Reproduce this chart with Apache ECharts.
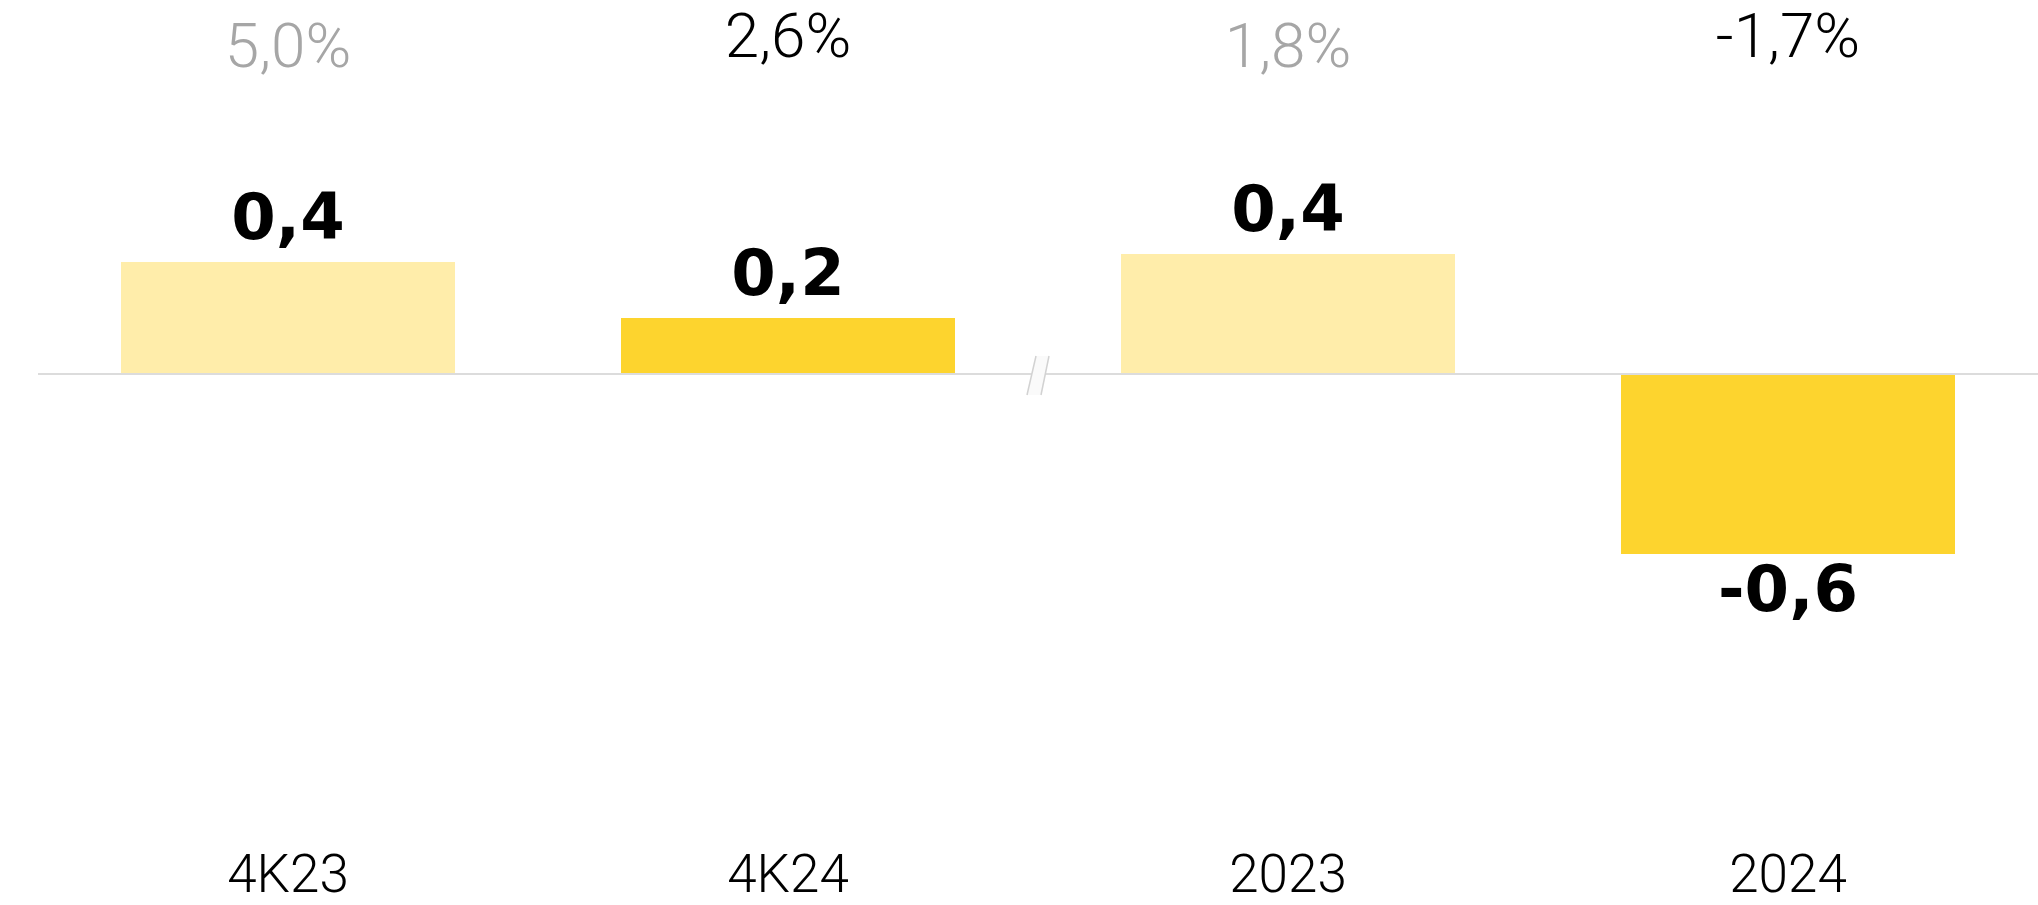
<!DOCTYPE html>
<html>
<head>
<meta charset="utf-8">
<title>Прирост</title>
<script src="https://cdn.jsdelivr.net/npm/echarts@6/dist/echarts.min.js"></script>
<style>
  html, body { margin: 0; padding: 0; background: #ffffff; }
  #chart { width: 2038px; height: 905px; }
</style>
</head>
<body>
<div id="chart"></div>
<script>
// Quarterly block (left of the axis break)
const quarterCats = ['4K23', '4K24'];
const quarterValues = [0.4, 0.2];
const quarterGrowth = ['5,0%', '2,6%'];

// Annual block (right of the axis break)
const yearCats = ['2023', '2024'];
const yearValues = [0.4, -0.6];
const yearGrowth = ['1,8%', '-1,7%'];

// Layout
const GRID_TOP = 134;
const GRID_BOTTOM_Y = 674;
const ZERO_Y = 374;
const LEFT = 38;
const HALF_W = 1000;
const PX_PER_UNIT = [280, 300];   // each block has its own scale

const COLOR_PREV = '#FFEDAA';
const COLOR_CURR = '#FDD42E';

const chart = echarts.init(document.getElementById('chart'));

function yRange(i) {
  const s = PX_PER_UNIT[i];
  return { max: (ZERO_Y - GRID_TOP) / s, min: -(GRID_BOTTOM_Y - ZERO_Y) / s };
}

function fmt(v) {
  return v.toFixed(1).replace('.', ',');
}

function barData(values) {
  return values.map((v, i) => ({
    value: v,
    itemStyle: { color: i === 0 ? COLOR_PREV : COLOR_CURR },
    label: { position: v < 0 ? 'bottom' : 'top' }
  }));
}

const grids = [0, 1].map(i => ({
  left: LEFT + i * HALF_W,
  width: HALF_W,
  top: GRID_TOP,
  height: GRID_BOTTOM_Y - GRID_TOP,
  containLabel: false
}));

const cats = [quarterCats, yearCats];
const growth = [quarterGrowth, yearGrowth];

const xAxes = [];
[0, 1].forEach(i => {
  // category labels under the chart
  xAxes.push({
    type: 'category',
    gridIndex: i,
    data: cats[i],
    position: 'bottom',
    axisLine: { show: false, onZero: false },
    axisTick: { show: false },
    axisLabel: {
      margin: 178,
      fontFamily: 'Roboto',
      fontWeight: 300,
      fontSize: 53,
      color: '#000000'
    }
  });
  // growth rates above the chart
  xAxes.push({
    type: 'category',
    gridIndex: i,
    data: growth[i],
    position: 'top',
    axisLine: { show: false, onZero: false },
    axisTick: { show: false },
    axisLabel: {
      margin: 52,
      formatter: (val, idx) => idx === 0 ? '{prev|' + val + '}' : '{curr|' + val + '}',
      rich: {
        prev: {
          fontFamily: 'Roboto', fontWeight: 300, fontSize: 62, color: '#a6a6a6'
        },
        curr: {
          fontFamily: 'Roboto', fontWeight: 300, fontSize: 62, color: '#000000',
          padding: [0, 0, 10, 0]
        }
      }
    }
  });
});

const yAxes = [0, 1].map(i => Object.assign({
  type: 'value',
  gridIndex: i,
  show: false,
  splitLine: { show: false }
}, yRange(i)));

const valueLabel = {
  show: true,
  distance: 8,
  fontFamily: 'DejaVu Sans',
  fontWeight: 'bold',
  fontSize: 64,
  color: '#000000',
  formatter: p => fmt(p.value)
};

const zeroLine = {
  silent: true,
  symbol: ['none', 'none'],
  label: { show: false },
  lineStyle: { color: '#dcdcdc', width: 2, type: 'solid' },
  data: [{ yAxis: 0 }]
};

const seriesList = [0, 1].map(i => ({
  type: 'bar',
  xAxisIndex: i * 2,
  yAxisIndex: i,
  data: barData(i === 0 ? quarterValues : yearValues),
  barWidth: 334,
  label: valueLabel,
  markLine: zeroLine,
  animation: false
}));

chart.setOption({
  animation: false,
  grid: grids,
  xAxis: xAxes,
  yAxis: yAxes,
  series: seriesList
});

// Axis break sign on the zero line between the two blocks
const zy = chart.convertToPixel({ yAxisIndex: 0 }, 0);
const bx = LEFT + HALF_W;
chart.setOption({
  graphic: [
    {
      type: 'polygon',
      z: 100,
      shape: { points: [[bx - 2, zy - 18], [bx + 11, zy - 18], [bx + 3, zy + 21], [bx - 11, zy + 21]] },
      style: { fill: '#fafafa', stroke: null }
    },
    {
      type: 'line', z: 101,
      shape: { x1: bx - 2, y1: zy - 18, x2: bx - 11, y2: zy + 21 },
      style: { stroke: '#d2d2d2', lineWidth: 1.5 }
    },
    {
      type: 'line', z: 101,
      shape: { x1: bx + 11, y1: zy - 18, x2: bx + 3, y2: zy + 21 },
      style: { stroke: '#d2d2d2', lineWidth: 1.5 }
    }
  ]
});
</script>
</body>
</html>
